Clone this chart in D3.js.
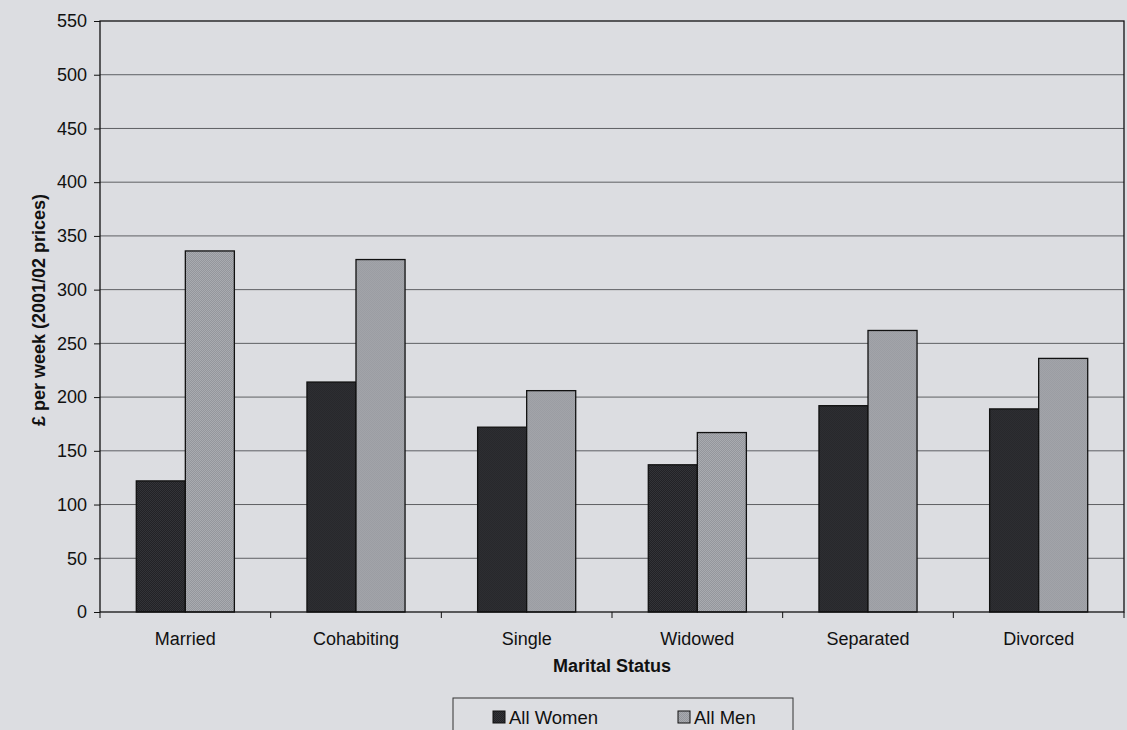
<!DOCTYPE html>
<html><head><meta charset="utf-8">
<script src="https://cdn.jsdelivr.net/npm/d3@7"></script>
<style>html,body{margin:0;padding:0;background:#dcdde1;}svg{display:block;}</style>
</head><body>
<svg id="c" width="1127" height="730"></svg>
<script>
const categories = ["Married","Cohabiting","Single","Widowed","Separated","Divorced"];
const seriesNames = ["All Women","All Men"];
const women = [122, 214, 172, 137, 192, 189];
const men = [336, 328, 206, 167, 262, 236];
const yTicks = [0,50,100,150,200,250,300,350,400,450,500,550];

const FONT = "Liberation Sans, Arial, sans-serif";
const svg = d3.select("#c");
const W = 1127, H = 730;
const m = {l:100, r:3, t:21, b:118};
const iw = W - m.l - m.r, ih = H - m.t - m.b;
svg.append("rect").attr("width",W).attr("height",H).attr("fill","#dcdde1");

const defs = svg.append("defs");
function checker(id, a, b){
  const p = defs.append("pattern").attr("id",id).attr("width",2).attr("height",2).attr("patternUnits","userSpaceOnUse");
  p.append("rect").attr("width",2).attr("height",2).attr("fill",a);
  p.append("rect").attr("width",1).attr("height",1).attr("fill",b);
  p.append("rect").attr("x",1).attr("y",1).attr("width",1).attr("height",1).attr("fill",b);
}
checker("pw","#333438","#222226");
checker("pm","#a9abb0","#94969c");
const fills = ["url(#pw)","url(#pm)"];

const g = svg.append("g").attr("transform",`translate(${m.l},${m.t})`);
const x = d3.scaleBand().domain(categories).range([0,iw]).paddingInner(0).paddingOuter(0);
const xs = d3.scaleBand().domain([0,1]).range([0,x.bandwidth()]).paddingInner(0).paddingOuter(0.74);
const y = d3.scaleLinear().domain([0,550]).range([ih,0]);

// gridlines
g.selectAll("line.grid").data(yTicks.filter(d=>d>0 && d<550)).enter().append("line")
  .attr("x1",0).attr("x2",iw).attr("y1",d=>y(d)).attr("y2",d=>y(d))
  .attr("stroke","#5e5f63").attr("stroke-width",1);

// bars
const data = categories.map((c,i)=>({c, v:[women[i],men[i]]}));
const grp = g.selectAll("g.cat").data(data).enter().append("g").attr("transform",d=>`translate(${x(d.c)},0)`);
grp.selectAll("rect").data(d=>d.v.map((v,k)=>({v,k}))).enter().append("rect")
  .attr("x",d=>xs(d.k)).attr("width",xs.bandwidth())
  .attr("y",d=>y(d.v)).attr("height",d=>ih-y(d.v))
  .attr("fill",d=>fills[d.k]).attr("stroke","#111").attr("stroke-width",1.3);

// border
g.append("rect").attr("x",0).attr("y",0).attr("width",iw).attr("height",ih)
  .attr("fill","none").attr("stroke","#111").attr("stroke-width",1.3);

// y axis
const ya = g.append("g").call(d3.axisLeft(y).tickValues(yTicks).tickSize(6).tickPadding(7).tickFormat(d3.format("d")));
ya.select(".domain").remove();
ya.selectAll("line").attr("stroke","#111");
ya.attr("font-size",18);
ya.selectAll("text").attr("font-family",FONT).attr("font-size",18).attr("fill","#111");

// x axis
const xa = g.append("g").attr("transform",`translate(0,${ih})`).call(d3.axisBottom(x).tickSize(0).tickPadding(20));
xa.select(".domain").remove();
xa.attr("font-size",18);
xa.selectAll("text").attr("font-family",FONT).attr("font-size",18).attr("fill","#111");
g.selectAll("line.xt").data(d3.range(categories.length+1)).enter().append("line")
  .attr("x1",d=>d*x.step()).attr("x2",d=>d*x.step()).attr("y1",ih).attr("y2",ih+6).attr("stroke","#111");

// titles
svg.append("text").attr("x",m.l+iw/2).attr("y",672).attr("text-anchor","middle")
  .attr("font-family",FONT).attr("font-size",18).attr("font-weight","bold").attr("fill","#111")
  .text("Marital Status");
svg.append("text").attr("transform",`translate(45,310) rotate(-90)`).attr("text-anchor","middle")
  .attr("font-family",FONT).attr("font-size",18).attr("font-weight","bold").attr("fill","#111")
  .text("£ per week (2001/02 prices)");

// legend
const lg = svg.append("g");
lg.append("rect").attr("x",453).attr("y",698).attr("width",340).attr("height",40)
  .attr("fill","#dcdde1").attr("stroke","#333").attr("stroke-width",1);
const lx = [493, 678];
seriesNames.forEach((n,i)=>{
  lg.append("rect").attr("x",lx[i]).attr("y",711).attr("width",12).attr("height",12)
    .attr("fill",fills[i]).attr("stroke","#111").attr("stroke-width",1);
  lg.append("text").attr("x",lx[i]+16).attr("y",724)
    .attr("font-family",FONT).attr("font-size",18.5).attr("fill","#111").text(n);
});
</script>
</body></html>
